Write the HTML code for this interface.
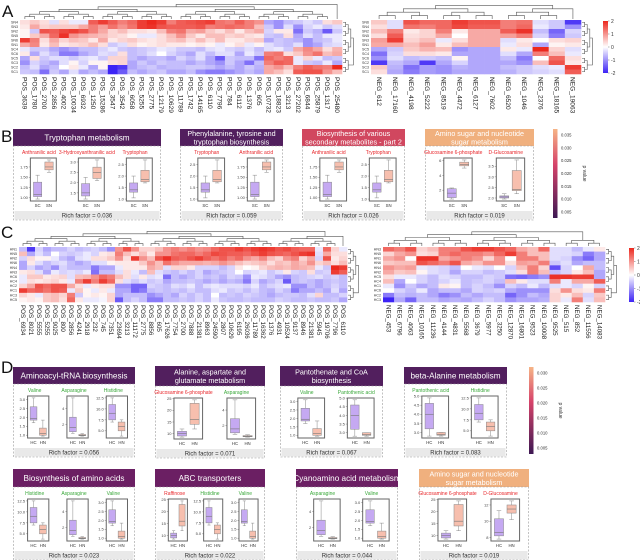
<!DOCTYPE html>
<html><head><meta charset="utf-8">
<style>
body{margin:0;background:#fff;}
svg{display:block;font-family:"Liberation Sans",sans-serif;}
</style></head>
<body>
<svg id="fig" width="640" height="560" viewBox="0 0 640 560" xmlns="http://www.w3.org/2000/svg"></svg>
<script>
// ===== Heatmap data (z-scores) =====
const colsA1=["POS_3639","POS_1780","POS_2700","POS_2856","POS_4002","POS_10034","POS_6932","POS_1250","POS_15286","POS_3547","POS_3542","POS_6058","POS_5255","POS_2775","POS_12179","POS_10629","POS_11789","POS_1742","POS_14165","POS_6110","POS_7796","POS_784","POS_6112","POS_1376","POS_605","POS_10732","POS_18823","POS_3213","POS_27202","POS_6844","POS_25879","POS_1317","POS_25480"];
const rowsA1=["SN4","SN3","SN2","SN5","SN6","SN1","SC4","SC6","SC5","SC3","SC2","SC1"];
const valsA1=[
[0.3,0.5,0.3,-0.3,0.3,-0.2,-0.2,1.5,1.8,1.5,1.2,1.4,1.8,2,1.8,1.2,1.5,1.6,1.7,1.8,1.3,1.2,1.5,1.2,1,-0.8,-1,-0.6,-0.5,-0.3,-0.5,0.3,0.5],
[0.2,0.8,0.4,0.5,0.5,0.5,0.8,1.2,0.9,1.3,1,1.3,1.8,1.9,1.6,1.5,1.5,1.5,1.6,1.2,1.3,1.4,1.3,1.2,0.6,-0.5,-1,-0.3,-1,-0.4,-0.2,-0.5,-0.3],
[0.1,-0.5,1.6,1.5,1.7,1.8,1.6,1.2,0.8,0.4,0.6,0.3,0.3,0.2,0.6,1.2,1.3,0.8,0.9,0.5,0.3,0.6,0.2,0.6,0.8,-0.4,0.2,0.2,-1.3,-0.5,-0.7,-1.5,-0.5],
[0.1,0.5,0.8,1.4,1.9,1.0,0.8,0.7,0.6,0.4,0.3,0.1,-0.2,-0.2,0.3,0.6,1,0.5,0.2,0.6,0.6,0.4,0.5,0.3,0.2,-0.5,-0.6,0.3,-0.8,-0.3,-0.6,-0.2,-0.2],
[1.8,1.2,0.3,0.8,0.4,0.6,0.5,0.2,0.8,0.2,0.4,0.5,0.3,0.2,0.3,0.5,0.6,0.3,0.6,0.3,0.6,0.2,0.2,0.4,0.5,-0.8,-0.5,-0.6,-0.7,-1,-0.6,-0.5,-0.2],
[0.8,1.1,0.2,0.6,0.2,0.3,0.4,0.6,0.3,-0.5,-0.3,0.3,0.1,0.2,0.3,0.2,0.2,0.1,0.2,0.1,-0.2,0.1,0.3,-0.2,0.1,-0.3,-0.5,-0.6,-0.3,-1,-0.8,-0.4,-0.3],
[-0.2,-0.5,-0.5,-0.8,-1,-0.8,-0.6,-0.6,-0.4,-0.2,-0.5,-0.6,-0.5,-0.4,-0.2,-0.3,-0.5,-0.5,-0.6,-0.3,-0.2,-0.4,-0.5,-0.3,-0.6,-0.3,-0.2,-0.5,0.8,1.1,0.8,0.3,0.7],
[0.2,-0.8,-0.3,-0.6,-1.2,-1.2,-0.8,-0.6,-0.3,-0.4,0.3,-0.6,-0.5,-0.3,0,-0.4,-0.6,-0.8,-0.3,-0.6,-0.3,-0.3,-0.8,-0.2,-0.5,1.2,1.3,0.3,0.5,1,1.3,0.6,0.8],
[-0.8,0.3,-0.5,-0.3,-0.3,-0.5,-0.3,-0.2,-0.5,0.4,0.4,-0.6,-0.8,-0.6,-0.6,-0.8,-0.4,-0.6,-0.3,-0.8,-1.5,-0.5,-0.6,-0.6,-1.3,1.4,1.2,1.4,-0.2,0.4,-0.2,-0.6,-0.5],
[-1,-0.4,-0.6,-0.8,-0.3,0.1,-0.4,0.1,0.1,0.3,0.4,-0.8,-0.5,-0.7,-0.5,-0.6,-0.6,-0.8,-0.6,-0.8,-1,-0.5,-0.8,-1.3,-0.6,1.2,1.5,1.4,-0.2,-0.5,-0.6,-0.2,-0.8],
[-0.6,-0.3,-0.8,-0.6,0,0.2,-0.2,-0.8,0.1,-2,-1.8,-0.8,-0.6,-0.5,-0.7,-0.6,-0.6,-0.5,-0.5,-0.6,-0.8,-0.6,-0.8,-0.5,-0.7,0.8,1,0.6,1.2,1.5,1.3,1.2,2],
[-0.5,-0.6,-1.3,-0.5,-0.8,-0.3,-0.8,-0.6,-0.8,-2,-1.5,-0.6,-0.8,-0.6,-0.5,-0.8,-0.8,-0.6,-1,-1.2,-1.2,-1,-0.8,-0.6,-0.8,0.8,0.6,0.3,1.5,1.6,1.6,1.0,0.6]];
const colsA2=["NEG_612","NEG_17160","NEG_4198","NEG_5222","NEG_8519","NEG_4472","NEG_6127","NEG_7602","NEG_6520","NEG_1046","NEG_2376","NEG_18165","NEG_19063"];
const rowsA2=["SN6","SN4","SN2","SN5","SN3","SN1","SC5","SC4","SC6","SC2","SC3","SC1"];
const valsA2=[
[0.5,-0.3,1.6,1.4,1.4,1.8,1.6,1.6,1.2,1.3,-0.3,-0.5,-1.8],
[0.3,-0.3,1.3,1.2,1.4,1.7,1.5,1.5,1.2,1.4,-0.2,-0.5,-1],
[0.6,1.2,0.2,0.4,1.2,0.2,0.8,0.8,1.5,1.9,-0.6,-1.4,-0.4],
[0.3,1.5,0.3,0.4,0.8,0,0.8,0.8,0.9,1.2,-0.4,-1.2,-0.5],
[0.9,1.8,0.4,0.6,-0.2,0.3,0.8,0.8,-0.3,0.2,0,0.3,0.4],
[0.8,0.8,0.6,0.9,0.2,0.6,0.8,0.8,-0.2,0.3,-0.8,0.1,0.2],
[-0.8,-0.5,0.5,0.7,0.6,-1,-0.8,-0.8,0.2,-0.2,2,0.4,-0.3],
[-1.3,-0.4,0.3,0.3,0.2,-0.8,-0.8,-0.8,-0.3,-0.8,1.2,0.6,-0.2],
[-1,-0.3,-0.6,-0.5,-0.6,0.1,-0.8,-0.8,-0.6,-1.2,0,1.4,0.3],
[-1.8,-0.6,-0.8,-1.8,-0.8,-0.4,-0.8,-0.8,-0.8,-1,0.6,1.6,0.2],
[0.5,-0.7,-1.3,-0.9,-1,-0.7,-0.8,-0.8,-0.6,-0.5,-0.3,-0.2,1.8],
[0.3,-0.8,-1.2,-0.9,-1,-0.8,-0.8,-0.8,-0.7,-0.5,-0.4,-0.3,1.5]];
const colsC1=["POS_6934","POS_8021","POS_5555","POS_5255","POS_9025","POS_800","POS_2856","POS_4241","POS_2918","POS_232","POS_745","POS_7351","POS_23694","POS_3213","POS_11172","POS_2775","POS_8856","POS_605","POS_17626","POS_7754","POS_2700","POS_7888","POS_21381","POS_8963","POS_24590","POS_2807","POS_10629","POS_6195","POS_26036","POS_11789","POS_16362","POS_1376","POS_4931","POS_10524","POS_9137","POS_8946","POS_21381","POS_5945","POS_19706","POS_7796","POS_6110"];
const rowsC1=["HN1","HN5","HN2","HN6","HN4","HN3","HC6","HC4","HC2","HC1","HC3","HC5"];
const valsC1=[
[-0.6,-1.8,-0.4,-0.8,-0.6,-0.6,-0.4,-0.6,-0.5,-0.4,-0.6,-1,1,1.6,1,0.4,0.4,0.6,1,1.2,1,1.2,1,1.1,1.4,1.6,1.6,1.8,1.6,1.8,1.9,1.8,1.6,1.7,1.5,1.4,1.4,-0.2,1.4,0.4,-0.2],
[0.6,-0.8,-0.3,-0.6,0,-0.4,-0.5,-0.4,-0.2,-0.4,0.2,0.3,1.2,0.6,0.3,0.6,0.2,1,1,1.3,1.4,1.4,1.2,1.4,1.7,1.6,1.5,1.5,1.4,1.6,1.8,1.6,1.5,1.4,1.6,1.8,1.9,-0.3,0.8,0.3,0.3],
[-0.4,0.3,0.1,0.1,-0.2,-0.6,-0.8,-0.3,-0.2,0.3,0.3,0.5,1,0.3,1.8,1,0.6,1.6,1.9,1.5,1.4,1.6,1.8,1.5,1.3,1.5,1.2,1.4,1,0.8,1.1,0.6,0.4,1,1.2,0.4,0.8,-0.4,1.6,0.2,0.4],
[-0.8,0.2,-0.3,-0.6,-0.4,-0.3,-0.6,-0.8,-0.6,-0.3,-0.3,0.1,0.2,0.2,0.2,0.5,1,0.6,1.3,1,0.8,0.8,0.8,0.7,0.8,1,0.8,0.6,0.4,0.5,0.6,0.3,0.6,0.5,0.8,0.6,1,0.4,0.6,0.3,0.6],
[-0.8,-0.4,-0.8,-0.6,-1,-0.4,-0.6,-0.6,-0.6,-1.2,-0.8,-0.8,-0.2,0.2,0.2,0.2,0.8,0.6,-0.3,0.4,0.4,0.2,-0.4,-0.4,-0.4,-0.6,-0.4,0.2,0,0.1,0.4,0.6,0.7,0.6,0.8,0.7,0.6,-0.2,-0.5,2,1.8],
[0.2,0.3,-0.3,-0.8,-0.2,-0.4,-0.3,-0.4,-0.2,-1.3,-0.6,-0.6,-0.3,0.3,-0.2,-0.6,0.6,-0.3,-0.5,-0.6,-0.4,-0.6,-0.4,-0.8,-0.6,-0.5,-0.4,0,-0.4,-0.3,-0.2,-0.5,-0.3,0.2,-0.4,-0.5,0.3,-0.5,-0.4,1.8,1.5],
[-0.2,0.5,0.5,0.2,0.3,0.4,-0.3,0.6,0.7,1,1.4,1.2,0.6,0.3,-0.3,0.2,-0.3,-0.2,-1.3,-0.6,-0.8,-0.6,-0.4,-0.6,-0.5,-0.7,-0.4,-0.5,-1,-0.2,-0.3,-0.5,-0.8,-1,-0.6,-0.5,-0.4,-0.3,-0.5,-0.4,-0.6],
[-0.2,0.3,0.2,0.3,0.4,0.2,-0.2,1.2,1.8,1.2,1.8,1.4,0.3,-0.3,-0.5,-0.3,-0.5,-0.4,-0.8,-0.6,-0.6,-0.5,-0.6,-0.8,-0.6,-0.8,-0.6,-0.7,-1.2,-0.4,-0.8,-0.6,-0.4,-1.5,-0.6,-0.5,-0.6,-0.8,-0.6,-0.5,-0.6],
[0.4,0.8,1.6,1.4,1.6,1.6,0.8,0.3,-0.2,0.2,0.3,0.3,-1,-1,-1.4,-1.4,-0.4,-0.5,-0.6,-0.3,-0.4,-0.2,-0.6,-0.3,-0.2,-0.3,-0.3,-0.3,-0.4,-0.2,-0.6,-0.4,-0.3,-0.2,-1,-1,-0.6,-0.8,-0.6,-0.4,-0.6],
[1.8,1.4,1.5,1.3,1.6,1.5,-0.2,0.5,0.1,-0.2,0.2,-0.2,-0.8,-0.8,-1.4,-1.2,-0.6,-0.5,-0.6,-0.5,-0.6,-0.4,-0.6,-0.6,-0.3,-0.2,-0.5,-0.4,-0.6,-0.4,-0.6,-0.7,-0.4,-0.6,-1.2,-0.8,-0.8,-0.6,-0.8,-0.3,-0.8],
[0.4,0.2,-0.2,0.5,0.6,0.4,1.2,-0.5,0.1,0.2,0.1,0.4,-0.8,-0.6,-0.6,-0.6,-1,-0.8,-0.6,-0.8,-0.4,-0.6,-0.4,-0.6,0,-0.6,-0.5,-0.6,-0.4,-0.5,-0.6,-0.8,-0.6,-0.5,-0.5,-0.6,-0.3,0.4,-0.6,-0.6,-0.4],
[0.1,0.2,0.1,0.5,0.6,0.3,1.4,0.2,-0.2,-0.2,-0.1,0.4,-1.5,-0.6,-0.4,-0.6,-1.2,-1.2,-0.6,-0.6,-0.5,-0.6,-0.4,-0.6,-0.2,-0.5,-0.6,-0.6,-0.5,-0.6,-0.6,-0.6,-0.4,-0.5,-0.6,-0.6,-0.5,-0.6,-0.6,-0.5,-0.8]];
const colsC2=["NEG_453","NEG_6796","NEG_4063","NEG_10165","NEG_11236","NEG_4144","NEG_4831","NEG_5568","NEG_3679","NEG_5977","NEG_3250","NEG_12870","NEG_16801","NEG_9523","NEG_10008","NEG_9525","NEG_515","NEG_852","NEG_11556","NEG_14083"];
const rowsC2=["HN3","HN5","HN1","HN6","HN4","HN2","HC5","HC4","HC1","HC6","HC2","HC3"];
const valsC2=[
[1.4,1.2,1.6,0.4,0.6,1.2,1.2,1.6,1.8,1.8,1.6,1.4,0.8,0.6,1.4,-0.3,-0.3,-0.6,-0.2,0.2],
[0.4,0.8,1,0.3,0.4,1.2,1.4,1.2,1.2,1,1.4,1.8,1.2,0.6,0.6,-0.3,-0.3,-0.4,-1.2,-0.8],
[0.8,1,0,1.9,1.9,0.8,1,1.2,1,0.4,1,0,1.2,1.2,0.6,-0.3,-0.4,-1,-1.4,-0.8],
[0.5,0.6,0.6,1.6,1.4,1.2,1.6,0.8,0.6,1,1,0.3,0.9,0.8,1.2,-0.5,-0.3,-0.8,-0.6,-0.6],
[1,0.8,0.9,-0.2,-0.3,-0.4,-0.6,0,-0.2,-0.3,0,-0.4,0.6,1.2,0.4,-1.6,-0.4,0,0.8,-0.6],
[0.8,0.5,0.6,0.1,-0.3,-0.4,-0.8,-0.4,-0.4,-0.6,-0.5,-0.3,0.3,1.2,0.6,-0.6,-0.4,0.2,0.6,-0.8],
[0.3,-0.2,-0.2,-0.4,-0.6,-0.3,-0.4,-0.6,-0.6,-0.4,-0.5,-1.3,-1.4,-1.2,-1,1.9,1.9,1.8,1.8,-0.8],
[0.6,-0.8,0,-0.4,-0.6,-0.4,-0.2,-0.6,-0.5,-0.4,-0.6,0.6,0.2,-0.3,-0.3,1.2,-0.2,0.8,0.8,1.5],
[-0.2,-1,-0.5,-0.8,-0.6,0.2,0.1,-0.6,-0.4,-0.6,-1,-0.4,-0.6,-0.2,-0.6,-0.3,-0.2,-0.4,0.1,-0.4],
[0,-0.4,-0.6,-0.2,-0.8,-0.6,-0.6,-0.8,-0.4,-0.5,-0.4,-0.8,-1,-1,-1,0.3,1,0.3,0.2,1.2],
[-1.2,-0.6,-0.7,-0.6,-0.8,-1.2,-1,-0.6,-0.8,-0.6,-0.6,-1.4,-1,-0.6,-0.8,0.4,0.2,0.6,-0.4,0.5],
[-2,-0.8,-1.4,-0.6,-0.6,-0.8,-0.7,-0.8,-0.6,-0.4,-0.6,-1,-0.8,-0.8,-0.7,0.4,-0.2,1.2,-0.3,0.6]];
const zTicks=[2,1,0,-1,-2];
// ===== Boxplot data: [min,q1,median,q3,max] per group =====
const miniNames=["Anthranilic acid","3-Hydroxyanthranilic acid","Tryptophan","Glucosamine 6-phosphate","D-Glucosamine","Valine","Asparagine","Histidine","Pantothenic acid","Raffinose"];
const miniTicks=[[1.00,1.25,1.50,1.75],[1.5,2.0,2.5,3.0],[1.0,1.5,2.0,2.5],[2,4,6],[2.0,2.5,3.0,3.5],[1.0,1.5,2.0,2.5,3.0],[2,4],[5.0,7.5,10.0,12.5],[3.0,3.5,4.0,4.5,5.0],[10,15,20,25],[8,10,12]];
const ctrlStats=[[0.97,1.03,1.08,1.38,1.55],[1.2,1.35,1.5,1.95,2.25],[1.05,1.3,1.4,1.7,2.0],[0.8,1.0,1.6,2.2,2.3],[1.95,2.0,2.05,2.1,2.2],[1.7,1.85,1.95,2.6,3.1],[0.9,1.1,1.6,2.9,5.3],[7,7.5,9,11,12.5],[2.8,3.2,4.0,4.6,4.9],[8.5,9,10,11,12],[7.8,8.2,8.6,10.3,11.3]];
const caseStats=[[1.62,1.68,1.75,1.87,1.92],[2.1,2.2,2.5,2.75,3.1],[1.7,1.75,1.85,2.25,2.7],[5.0,5.3,5.5,5.8,6.1],[2.2,2.35,2.4,3.3,3.8],[0.95,1.0,1.1,1.4,1.85],[0.55,0.6,0.65,0.75,0.85],[3.8,5,6,7,7.5],[2.8,2.85,2.9,3.0,3.0],[12,14,16,23,24.5],[10.2,11,11.5,12,12.5]];
const richB=["0.036","0.059","0.026","0.019"];
const richD=["0.056","0.071","0.067","0.083","0.023","0.022","0.044","0.019"];
const pTicksB=["0.035","0.030","0.025","0.020","0.015","0.010","0.005"];
const pTicksD=["0.030","0.025","0.020","0.015","0.010","0.005"];

const NS="http://www.w3.org/2000/svg";
const svg=document.getElementById('fig');
function el(tag,attrs,parent,text){const e=document.createElementNS(NS,tag);for(const k in attrs)e.setAttribute(k,attrs[k]);if(text!==undefined)e.textContent=text;(parent||svg).appendChild(e);return e;}
function zColor(v){const t=Math.max(-2,Math.min(2,v))/2;let r,g,b;
 if(t>=0){r=255+(236-255)*t;g=255+(40-255)*t;b=255+(30-255)*t;}else{const s=-t;r=255+(60-255)*s;g=255+(35-255)*s;b=255+(245-255)*s;}
 return `rgb(${r|0},${g|0},${b|0})`;}
function dendroTop(g,xs,yBase,yTop){let nodes=xs.map(x=>({x,h:0}));const steps=Math.ceil(Math.log2(xs.length))+1;const sc=(yBase-yTop)/steps;
 while(nodes.length>1){const nn=[];for(let i=0;i<nodes.length;i+=2){if(i+1<nodes.length){const a=nodes[i],b=nodes[i+1];const h=Math.max(a.h,b.h)+1;const y=yBase-h*sc;
  el('path',{d:`M${a.x},${yBase-a.h*sc}V${y}H${b.x}V${yBase-b.h*sc}`,stroke:'#555',fill:'none','stroke-width':0.6},g);nn.push({x:(a.x+b.x)/2,h});}else nn.push(nodes[i]);}nodes=nn;}}
function dendroSide(g,ys,xBase,xEnd){let nodes=ys.map(y=>({y,h:0}));const steps=Math.ceil(Math.log2(ys.length))+1;const sc=(xEnd-xBase)/steps;
 while(nodes.length>1){const nn=[];for(let i=0;i<nodes.length;i+=2){if(i+1<nodes.length){const a=nodes[i],b=nodes[i+1];const h=Math.max(a.h,b.h)+1;const x=xBase+h*sc;
  el('path',{d:`M${xBase+a.h*sc},${a.y}H${x}V${b.y}H${xBase+b.h*sc}`,stroke:'#555',fill:'none','stroke-width':0.6},g);nn.push({y:(a.y+b.y)/2,h});}else nn.push(nodes[i]);}nodes=nn;}}
function heatmap(name,x0,x1,y0,y1,vals,cols,rows,fs,dTop){
 const g=el('g',{});
 const cw=(x1-x0)/cols.length,ch=(y1-y0)/rows.length;
 vals.forEach((row,i)=>row.forEach((v,j)=>{const r=el('rect',{x:x0+j*cw,y:y0+i*ch,width:cw+0.3,height:ch+0.3,fill:zColor(v)},g);
  }));
 rows.forEach((rn,i)=>{const t=el('text',{x:x0-2,y:y0+i*ch+ch/2+1.2,'font-size':3.6,'text-anchor':'end',fill:'#333'},g,rn);
  });
 cols.forEach((cn,j)=>{const cx=x0+j*cw+cw/2-fs*0.35;const t=el('text',{x:0,y:0,'font-size':fs,fill:'#222',transform:`translate(${cx},${y1+3}) rotate(90)`},g,cn);
  });
 dendroTop(g,cols.map((c,j)=>x0+j*cw+cw/2),y0-1,dTop);
 dendroSide(g,rows.map((r,i)=>y0+i*ch+ch/2),x1+1,x1+14);
}
function zBar(name,x,y0,y1){const g=el('g',{});
 const id='zg'+x;const d=el('defs',{},g);const lg=el('linearGradient',{id,x1:0,y1:0,x2:0,y2:1},d);
 el('stop',{offset:'0','stop-color':'rgb(236,40,30)'},lg);el('stop',{offset:'0.5','stop-color':'#fff'},lg);el('stop',{offset:'1','stop-color':'rgb(60,35,245)'},lg);
 el('rect',{x,y:y0,width:5,height:y1-y0,fill:`url(#${id})`},g);
 zTicks.forEach((t,i)=>{const yy=y0+(y1-y0)*(2-t)/4;el('line',{x1:x+5,x2:x+6.5,y1:yy,y2:yy,stroke:'#444','stroke-width':0.4},g);
  el('text',{x:x+8,y:yy+1.8,'font-size':5,fill:'#333'},g,String(t));});}
function pBar(name,x,y0,y1,ticks){const g=el('g',{});
 const id='pg'+x;const d=el('defs',{},g);const lg=el('linearGradient',{id,x1:0,y1:0,x2:0,y2:1},d);
 el('stop',{offset:'0','stop-color':'#f6b486'},lg);el('stop',{offset:'0.4','stop-color':'#d6436a'},lg);el('stop',{offset:'1','stop-color':'#3d1853'},lg);
 el('rect',{x,y:y0,width:4.5,height:y1-y0,fill:`url(#${id})`},g);
 ticks.forEach((t,i)=>{const yy=y0+6+(y1-y0-12)*i/(ticks.length-1);el('text',{x:x+8,y:yy+1.5,'font-size':4.2,fill:'#333'},g,t);});
 el('text',{x:0,y:0,'font-size':5,fill:'#333',transform:`translate(${x+30},${(y0+y1)/2}) rotate(90)`,'text-anchor':'middle'},g,'p value');}
function fmt(t,ticks){const dec=ticks.some(v=>Math.round(v*100)%10)?2:(ticks.some(v=>v%1)?1:0);return t.toFixed(dec);}
const PURPLE='#521f5e',MAG='#6b1f63',PINK='#d1475f',ORANGE='#f0b07e';
function panel(name,x0,x1,yT,yH,yB,title,color,minis,rich,grp,tcolors){
 const g=el('g',{});
 const hd=el('rect',{x:x0,y:yT,width:x1-x0,height:yH-yT,fill:color},g);
 title.forEach((ln,i)=>{el('text',{x:(x0+x1)/2,y:(yT+yH)/2+2.8-(title.length-1)*4.2+i*8.4,'font-size':title.length>1?7.2:8.2,'text-anchor':'middle',fill:'#fff'},g,ln);});
 el('rect',{x:x0+0.5,y:yH,width:x1-x0-1,height:yB-yH,fill:'none',stroke:'#999','stroke-dasharray':'2,1.5','stroke-width':0.6},g);
 const rb=el('rect',{x:x0+1.5,y:yB-9,width:x1-x0-3,height:8.5,fill:'#e9e9e9'},g);
 el('text',{x:(x0+x1)/2,y:yB-2.5,'font-size':6,'text-anchor':'middle',fill:'#333'},g,'Rich factor = '+rich);
 const n=minis.length,sw=(x1-x0-4)/n;
 minis.forEach((m,k)=>{const sx=x0+2+k*sw;const mg=el('g',{},g);
  el('text',{x:sx+sw/2,y:yH+8,'font-size':5,'text-anchor':'middle',fill:tcolors[k]},mg,miniNames[m[0]]);
  const fx0=sx+sw*0.32,fx1=sx+sw*0.86,fy0=yH+12,fy1=yB-19;
  const ticks=miniTicks[m[1]],a=ctrlStats[m[1]],b=caseStats[m[1]];
  const lo=Math.min(ticks[0],a[0],b[0]),hi=Math.max(a[4],b[4]);const pad=(hi-lo)*0.05;
  const Y=v=>fy1-(v-lo+pad)/(hi-lo+2*pad)*(fy1-fy0);
  el('rect',{x:fx0,y:fy0,width:fx1-fx0,height:fy1-fy0,fill:'#fff',stroke:'#666','stroke-width':1},mg);
  ticks.forEach(t=>{const yy=Y(t);if(yy<fy0-0.5)return;el('line',{x1:fx0-1.5,x2:fx0,y1:yy,y2:yy,stroke:'#555','stroke-width':0.4},mg);
   el('text',{x:fx0-2.5,y:yy+1.4,'font-size':4,'text-anchor':'end',fill:'#444'},mg,fmt(t,ticks));});
  [[a,'#c5a9f2',grp[0]],[b,'#f7bfae',grp[1]]].forEach(([s,f,lab],q)=>{const cx=fx0+(fx1-fx0)*(q?0.72:0.28),bw=(fx1-fx0)*0.32;
   el('line',{x1:cx,x2:cx,y1:Y(s[0]),y2:Y(s[4]),stroke:'#888','stroke-width':0.5},mg);
   [s[0],s[4]].forEach(v=>el('line',{x1:cx-bw*0.25,x2:cx+bw*0.25,y1:Y(v),y2:Y(v),stroke:'#888','stroke-width':0.5},mg));
   const bx=el('rect',{x:cx-bw/2,y:Y(s[3]),width:bw,height:Math.max(0.8,Y(s[1])-Y(s[3])),fill:f,stroke:'#888','stroke-width':0.5},mg);
   
   el('line',{x1:cx-bw/2,x2:cx+bw/2,y1:Y(s[2]),y2:Y(s[2]),stroke:'#777','stroke-width':0.6},mg);
   el('text',{x:cx,y:fy1+6,'font-size':4.3,'text-anchor':'middle',fill:'#333'},mg,lab);});
 });}
[['A',2,17],['B',1,142],['C',1,238],['D',1,373]].forEach(([l,x,y])=>{const t=el('text',{x,y,'font-size':17,fill:'#111'},svg,l);});
heatmap('heatmap-a-pos',20,342,20,74,valsA1,colsA1,rowsA1,6.6,2);
heatmap('heatmap-a-neg',371,581,20,74,valsA2,colsA2,rowsA2,6.6,2);
zBar('colorbar-a',603,21,73);
heatmap('heatmap-c-pos',19,347,247,302,valsC1,colsC1,rowsC1,6.2,229);
heatmap('heatmap-c-neg',383,605,247,302,valsC2,colsC2,rowsC2,6.2,229);
zBar('colorbar-c',629,248,302);
const R='#e8262a',G='#3aa83a';
const SG=['SC','SN'],HG=['HC','HN'];
panel('panel-b-tryptophan',13,161,129,146,220,['Tryptophan metabolism'],PURPLE,[[0,0],[1,1],[2,2]],richB[0],SG,[R,R,R]);
panel('panel-b-phenylalanine',180,283,129,146,220,['Phenylalanine, tyrosine and','tryptophan biosynthesis'],PURPLE,[[2,2],[0,0]],richB[1],SG,[R,R]);
panel('panel-b-secondary',302,405,129,146,220,['Biosynthesis of various','secondary metabolites - part 2'],PINK,[[0,0],[2,2]],richB[2],SG,[R,R]);
panel('panel-b-amino-sugar',425,534,129,146,220,['Amino sugar and nucleotide','sugar metabolism'],ORANGE,[[3,3],[4,4]],richB[3],SG,[R,R]);
pBar('colorbar-b',553,129,218,pTicksB);
panel('panel-d-aminoacyl',13,135,367,384,457,['Aminoacyl-tRNA biosynthesis'],PURPLE,[[5,5],[6,6],[7,7]],richD[0],HG,[G,G,G]);
panel('panel-d-alanine',155,265,366,386,458,['Alanine, aspartate and','glutamate metabolism'],PURPLE,[[3,9],[6,6]],richD[1],HG,[R,G]);
panel('panel-d-pantothenate',280,383,366,386,457,['Pantothenate and CoA','biosynthesis'],PURPLE,[[5,5],[8,8]],richD[2],HG,[G,G]);
panel('panel-d-beta-alanine',404,507,367,384,457,['beta-Alanine metabolism'],PURPLE,[[8,8],[7,7]],richD[3],HG,[G,G]);
pBar('colorbar-d',529,367,454,pTicksD);
panel('panel-d-amino-acids',13,135,469,487,560,['Biosynthesis of amino acids'],MAG,[[7,7],[6,6],[5,5]],richD[4],HG,[G,G,G]);
panel('panel-d-abc',155,265,469,487,560,['ABC transporters'],MAG,[[9,9],[7,7],[5,5]],richD[5],HG,[R,G,G]);
panel('panel-d-cyanoamino',296,398,469,487,560,['Cyanoamino acid metabolism'],MAG,[[6,6],[5,5]],richD[6],HG,[G,G]);
panel('panel-d-amino-sugar',419,529,469,487,560,['Amino sugar and nucleotide','sugar metabolism'],ORANGE,[[3,9],[4,10]],richD[7],HG,[R,R]);
</script>
</body></html>
